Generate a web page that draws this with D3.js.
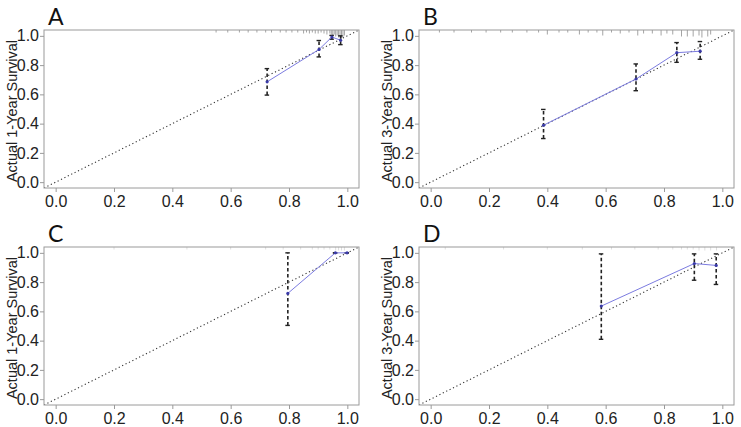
<!DOCTYPE html>
<html>
<head>
<meta charset="utf-8">
<script src="https://cdn.jsdelivr.net/npm/d3@7"></script>
<style>
  body { margin: 0; background: #fff; }
  svg { display: block; }
</style>
</head>
<body>
<svg id="chart" width="741" height="427"></svg>
<script>
// ---------- data ----------
const panelLabels = ["A", "B", "C", "D"];
const yTitles = ["Actual 1-Year Survival", "Actual 3-Year Survival", "Actual 1-Year Survival", "Actual 3-Year Survival"];
const tickValues = [0.0, 0.2, 0.4, 0.6, 0.8, 1.0];

// predicted (x), observed (y), lower/upper CI for each panel
const predA = [0.725, 0.903, 0.947, 0.977];
const obsA  = [0.686, 0.907, 0.992, 0.970];
const loA   = [0.595, 0.856, 0.977, 0.940];
const hiA   = [0.776, 0.968, 1.003, 1.000];

const predB = [0.387, 0.704, 0.844, 0.924];
const obsB  = [0.389, 0.705, 0.885, 0.895];
const loB   = [0.298, 0.625, 0.819, 0.840];
const hiB   = [0.497, 0.808, 0.954, 0.961];

const predC = [0.796, 0.959, 0.999];
const obsC  = [0.723, 1.000, 1.000];
const loC   = [0.504, 1.000, 1.000];
const hiC   = [1.000, 1.000, 1.000];

const predD = [0.585, 0.904, 0.979];
const obsD  = [0.636, 0.927, 0.914];
const loD   = [0.409, 0.813, 0.784];
const hiD   = [0.993, 0.993, 0.993];

// distribution of predicted values (rug at top): positions and counts
const rugXA = [0.55, 0.59, 0.63, 0.66, 0.69, 0.72, 0.74, 0.77, 0.79, 0.81, 0.83, 0.85, 0.86, 0.87, 0.88, 0.89, 0.90, 0.91, 0.92, 0.93, 0.94, 0.945, 0.95, 0.955, 0.96, 0.965, 0.97, 0.975, 0.98, 0.985, 0.99];
const rugNA = [1, 1, 1, 1, 1, 1, 1, 1, 1, 1, 1, 2, 1, 2, 1, 2, 2, 1, 2, 3, 2, 3, 4, 3, 5, 4, 6, 5, 7, 6, 4];
const rugXB = [0.03, 0.08, 0.14, 0.19, 0.24, 0.28, 0.33, 0.37, 0.40, 0.44, 0.47, 0.51, 0.54, 0.57, 0.59, 0.62, 0.65, 0.68, 0.71, 0.73, 0.76, 0.79, 0.81, 0.83, 0.86, 0.88, 0.90, 0.92, 0.93, 0.95, 0.96];
const rugNB = [1, 1, 1, 1, 1, 1, 1, 1, 3, 1, 1, 3, 1, 1, 4, 1, 2, 1, 4, 2, 2, 4, 2, 3, 5, 5, 5, 4, 6, 5, 3];
const rugXC = [0.20, 0.45, 0.60, 0.72, 0.78, 0.84, 0.88, 0.90, 0.92, 0.94, 0.96, 0.97, 0.98, 0.99];
const rugNC = [1, 1, 1, 1, 1, 1, 1, 1, 1, 1, 2, 2, 2, 2];
const rugXD = [0.05, 0.25, 0.40, 0.52, 0.62, 0.70, 0.78, 0.83, 0.86, 0.88, 0.90, 0.92, 0.94, 0.96, 0.98];
const rugND = [1, 1, 1, 1, 1, 1, 1, 1, 1, 1, 1, 2, 2, 2, 2];

const panelsData = [
  { pred: predA, obs: obsA, lo: loA, hi: hiA, rugX: rugXA, rugN: rugNA },
  { pred: predB, obs: obsB, lo: loB, hi: hiB, rugX: rugXB, rugN: rugNB },
  { pred: predC, obs: obsC, lo: loC, hi: hiC, rugX: rugXC, rugN: rugNC },
  { pred: predD, obs: obsD, lo: loD, hi: hiD, rugX: rugXD, rugN: rugND }
];

// ---------- layout ----------
const boxes = [
  { left: 44,  right: 359, top: 30,  bottom: 188, rugColor: "#9a9a9a" },
  { left: 419, right: 734, top: 30,  bottom: 188, rugColor: "#9a9a9a" },
  { left: 44,  right: 359, top: 247, bottom: 405, rugColor: "#dadada" },
  { left: 419, right: 734, top: 247, bottom: 405, rugColor: "#dadada" }
];
const domain = [-0.04, 1.04];
const svg = d3.select("#chart");
const tickFont = "'Liberation Sans', Arial, Helvetica, sans-serif";

panelsData.forEach((pd, i) => {
  const b = boxes[i];
  const x = d3.scaleLinear().domain(domain).range([b.left, b.right]);
  const y = d3.scaleLinear().domain(domain).range([b.bottom, b.top]);
  const g = svg.append("g");
  const clipId = "clip" + i;
  svg.append("clipPath").attr("id", clipId)
    .append("rect").attr("x", b.left).attr("y", b.top)
    .attr("width", b.right - b.left).attr("height", b.bottom - b.top);

  // rug of predicted values
  const rugUnit = 1.0;
  g.selectAll("line.rug").data(pd.rugX).enter().append("line")
    .attr("x1", d => x(d)).attr("x2", d => x(d))
    .attr("y1", b.top).attr("y2", (d, k) => b.top + 1.5 + pd.rugN[k] * rugUnit)
    .attr("stroke", b.rugColor).attr("stroke-width", 0.9);

  // ideal diagonal
  g.append("line")
    .attr("clip-path", `url(#${clipId})`)
    .attr("x1", x(domain[0])).attr("y1", y(domain[0]))
    .attr("x2", x(domain[1])).attr("y2", y(domain[1]))
    .attr("stroke", "#333").attr("stroke-width", 1.1)
    .attr("stroke-dasharray", "1.2,2.6");

  // error bars
  const idx = d3.range(pd.pred.length);
  idx.forEach(k => {
    const xx = x(pd.pred[k]);
    g.append("line")
      .attr("x1", xx).attr("x2", xx)
      .attr("y1", y(pd.lo[k])).attr("y2", y(pd.hi[k]))
      .attr("stroke", "#222").attr("stroke-width", 1.6)
      .attr("stroke-dasharray", "3.5,2.5");
    [pd.lo[k], pd.hi[k]].forEach(v => {
      g.append("line")
        .attr("x1", xx - 2.5).attr("x2", xx + 2)
        .attr("y1", y(v)).attr("y2", y(v))
        .attr("stroke", "#222").attr("stroke-width", 1.4);
    });
  });

  // calibration line
  const line = d3.line().x(k => x(pd.pred[k])).y(k => y(pd.obs[k]));
  g.append("path").datum(idx).attr("d", line)
    .attr("fill", "none").attr("stroke", "#7b7be0").attr("stroke-width", 1);
  g.selectAll("circle.pt").data(idx).enter().append("circle")
    .attr("cx", k => x(pd.pred[k])).attr("cy", k => y(pd.obs[k]))
    .attr("r", 1.6).attr("fill", "#3a3aa8");

  // box
  g.append("rect")
    .attr("x", b.left).attr("y", b.top)
    .attr("width", b.right - b.left).attr("height", b.bottom - b.top)
    .attr("fill", "none").attr("stroke", "#9a9a9a").attr("stroke-width", 1);

  // axes
  const xAxis = d3.axisBottom(x).tickValues(tickValues).tickFormat(d3.format(".1f"))
    .tickSizeInner(4).tickSizeOuter(0).tickPadding(4);
  const gx = g.append("g").attr("transform", `translate(0,${b.bottom})`).call(xAxis);
  const yAxis = d3.axisLeft(y).tickValues(tickValues).tickFormat(d3.format(".1f"))
    .tickSizeInner(4).tickSizeOuter(0).tickPadding(1);
  const gy = g.append("g").attr("transform", `translate(${b.left},0)`).call(yAxis);
  [gx, gy].forEach(ax => {
    ax.select(".domain").remove();
    ax.selectAll(".tick line").attr("stroke", "#9a9a9a");
    ax.selectAll(".tick text").attr("fill", "#222")
      .style("font-family", tickFont).style("font-size", "16px");
  });

  // y title
  g.append("text")
    .attr("transform", `translate(${b.left - 27},${(b.top + b.bottom) / 2 + 2}) rotate(-90)`)
    .attr("text-anchor", "middle")
    .style("font-family", tickFont).style("font-size", "14.5px").attr("fill", "#222")
    .text(yTitles[i]);

  // panel label
  g.append("text")
    .attr("x", b.left + 4).attr("y", b.top - 5)
    .style("font-family", "Lato, 'Open Sans', sans-serif").style("font-size", "23px")
    .attr("fill", "#111")
    .text(panelLabels[i]);
});
</script>
</body>
</html>
